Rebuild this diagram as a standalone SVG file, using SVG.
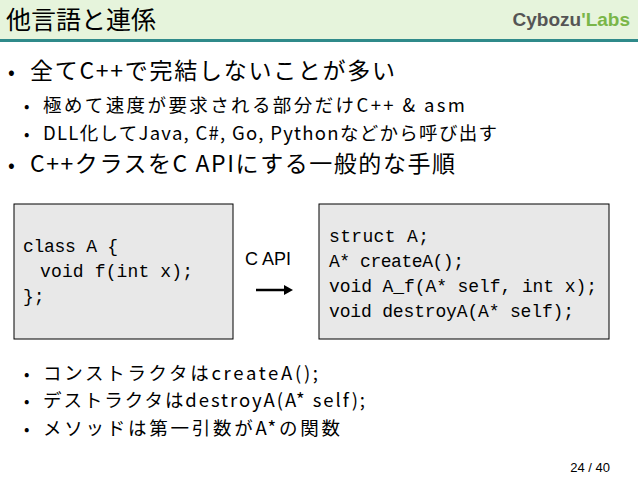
<svg xmlns="http://www.w3.org/2000/svg" width="638" height="479" viewBox="0 0 638 479">
<style>
.t{font-family:"Noto Sans CJK JP","Noto Sans",sans-serif;fill:#000}
.c{font-family:"Liberation Mono",monospace;font-size:18px;fill:#000}
.box{fill:#e8e8e8;stroke:#000;stroke-width:1}
</style>
<rect width="638" height="479" fill="#fff"/>
<rect width="638" height="39" fill="#e6f4dc"/>
<rect y="39" width="638" height="3" fill="#2f8a8a"/>
<text class="t" x="6" y="29" font-size="25" textLength="150">他言語と連係</text>
<text x="630" y="26" text-anchor="end" font-family="Liberation Sans,sans-serif" font-weight="bold" font-size="19" fill="#555">Cybozu<tspan fill="#7ab648">'Labs</tspan></text>
<g class="t">
<text x="8" y="79" font-size="20">•</text><text x="30" y="79" font-size="23" textLength="365">全てC++で完結しないことが多い</text>
<text x="24" y="112" font-size="16">•</text><text x="43" y="112" font-size="18.5" textLength="422">極めて速度が要求される部分だけC++ &amp; asm</text>
<text x="24" y="140" font-size="16">•</text><text x="43" y="140" font-size="18.5" textLength="454">DLL化してJava, C#, Go, Pythonなどから呼び出す</text>
<text x="8" y="172" font-size="20">•</text><text x="30" y="172" font-size="23" textLength="425">C++クラスをC APIにする一般的な手順</text>
</g>
<g id="nodeA"><rect class="box" x="14" y="204" width="219" height="135"/>
<text class="c" x="23" y="252" textLength="95">class A {</text>
<text class="c" x="40" y="277" textLength="153">void f(int x);</text>
<text class="c" x="23" y="302">};</text></g>
<g id="nodeB"><rect class="box" x="319" y="204" width="290" height="135"/>
<text class="c" x="329" y="242" textLength="100">struct A;</text>
<text class="c" x="329" y="267" textLength="135">A* createA();</text>
<text class="c" x="329" y="292" textLength="268">void A_f(A* self, int x);</text>
<text class="c" x="329" y="317" textLength="245">void destroyA(A* self);</text></g>
<g id="connectors">
<text x="245" y="265" font-family="Liberation Sans,sans-serif" font-size="18">C API</text>
<line x1="256" y1="290" x2="286" y2="290" stroke="#000" stroke-width="2.5"/>
<polygon points="284,285 293,290 284,295" fill="#000"/>
</g>
<g class="t">
<text x="24" y="380" font-size="16">•</text><text x="43" y="380" font-size="18.5" textLength="275">コンストラクタはcreateA();</text>
<text x="24" y="407" font-size="16">•</text><text x="43" y="407" font-size="18.5" textLength="322">デストラクタはdestroyA(A* self);</text>
<text x="24" y="435" font-size="16">•</text><text x="43" y="435" font-size="18.5" textLength="297">メソッドは第一引数がA*の関数</text>
</g>
<text x="610" y="472" text-anchor="end" font-family="Liberation Sans,sans-serif" font-size="13">24 / 40</text>
</svg>
